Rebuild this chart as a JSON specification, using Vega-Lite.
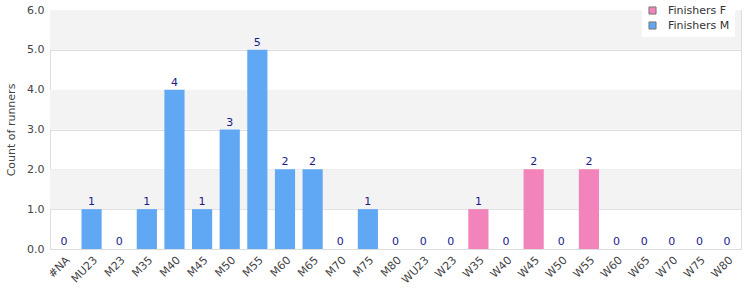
{
  "$schema": "https://vega.github.io/schema/vega-lite/v6.json",
  "autosize": {"type": "fit", "contains": "padding"},
  "width": 750,
  "height": 300,
  "padding": {"left": 5, "top": 4, "right": 9, "bottom": 14},
  "config": {
    "font": "DejaVu Sans",
    "view": {"stroke": "#dddddd", "strokeWidth": 1},
    "axis": {"labelColor": "#444444", "titleColor": "#444444", "labelFontSize": 11, "titleFontSize": 11, "titleFontWeight": "normal", "domainColor": "#dddddd", "tickColor": "#dddddd"}
  },
  "datasets": {
    "runners": [
      {"category": "#NA", "series": "Finishers M", "count": 0},
      {"category": "MU23", "series": "Finishers M", "count": 1},
      {"category": "M23", "series": "Finishers M", "count": 0},
      {"category": "M35", "series": "Finishers M", "count": 1},
      {"category": "M40", "series": "Finishers M", "count": 4},
      {"category": "M45", "series": "Finishers M", "count": 1},
      {"category": "M50", "series": "Finishers M", "count": 3},
      {"category": "M55", "series": "Finishers M", "count": 5},
      {"category": "M60", "series": "Finishers M", "count": 2},
      {"category": "M65", "series": "Finishers M", "count": 2},
      {"category": "M70", "series": "Finishers M", "count": 0},
      {"category": "M75", "series": "Finishers M", "count": 1},
      {"category": "M80", "series": "Finishers M", "count": 0},
      {"category": "WU23", "series": "Finishers F", "count": 0},
      {"category": "W23", "series": "Finishers F", "count": 0},
      {"category": "W35", "series": "Finishers F", "count": 1},
      {"category": "W40", "series": "Finishers F", "count": 0},
      {"category": "W45", "series": "Finishers F", "count": 2},
      {"category": "W50", "series": "Finishers F", "count": 0},
      {"category": "W55", "series": "Finishers F", "count": 2},
      {"category": "W60", "series": "Finishers F", "count": 0},
      {"category": "W65", "series": "Finishers F", "count": 0},
      {"category": "W70", "series": "Finishers F", "count": 0},
      {"category": "W75", "series": "Finishers F", "count": 0},
      {"category": "W80", "series": "Finishers F", "count": 0}
    ],
    "bands": [
      {"lo": 1, "hi": 2},
      {"lo": 3, "hi": 4},
      {"lo": 5, "hi": 6}
    ]
  },
  "layer": [
    {
      "data": {"name": "bands"},
      "mark": {"type": "rect", "color": "#f3f3f3"},
      "encoding": {
        "y": {"field": "lo", "type": "quantitative"},
        "y2": {"field": "hi"}
      }
    },
    {
      "data": {"name": "runners"},
      "mark": {"type": "bar"},
      "encoding": {
        "x": {"field": "category", "type": "nominal", "sort": null, "title": null,
              "scale": {"paddingInner": 0.27, "paddingOuter": 0.14},
              "axis": {"labelAngle": -45, "ticks": false, "labelPadding": 5}},
        "y": {"field": "count", "type": "quantitative", "title": "Count of runners",
              "scale": {"domain": [0, 6]},
              "axis": {"format": ".1f", "tickCount": 6, "grid": true, "gridColor": "#dddddd", "ticks": false, "domain": false, "labelPadding": 6, "titlePadding": 10}},
        "color": {"field": "series", "type": "nominal", "title": null,
                  "scale": {"domain": ["Finishers F", "Finishers M"], "range": ["#f283bb", "#60a8f4"]},
                  "legend": {"orient": "none", "legendX": 592, "legendY": -10, "symbolType": "square", "symbolStrokeColor": "#777777", "symbolStrokeWidth": 1, "symbolSize": 50, "labelFontSize": 11, "labelColor": "#333333", "fillColor": "white", "padding": 5, "rowPadding": 2, "labelOffset": 10}}
      }
    },
    {
      "data": {"name": "runners"},
      "mark": {"type": "text", "dy": -7, "color": "#1a1a8c", "fontSize": 11},
      "encoding": {
        "x": {"field": "category", "type": "nominal", "sort": null},
        "y": {"field": "count", "type": "quantitative"},
        "text": {"field": "count", "type": "quantitative"}
      }
    }
  ]
}
